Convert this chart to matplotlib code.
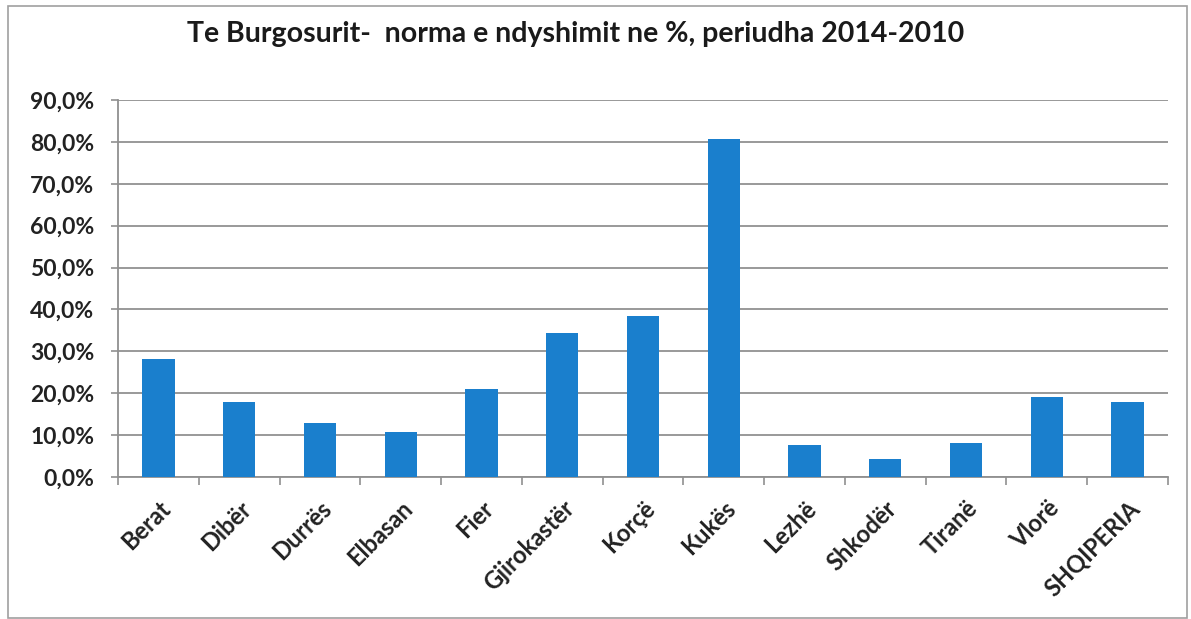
import numpy as np
import matplotlib.pyplot as plt
import matplotlib.transforms as mtransforms
from matplotlib.ticker import FuncFormatter, FixedLocator
from matplotlib.patches import Rectangle

# Donnees
rajonet = ['Berat', 'Dibër', 'Durrës', 'Elbasan', 'Fier', 'Gjirokastër', 'Korçë',
           'Kukës', 'Lezhë', 'Shkodër', 'Tiranë', 'Vlorë', 'SHQIPERIA']
norma = [28.1, 18.0, 12.8, 10.8, 20.9, 34.3, 38.5, 80.6, 7.6, 4.2, 8.2, 19.0, 18.0]
titulli = 'Te Burgosurit-  norma e ndyshimit ne %, periudha 2014-2010'

plt.rcParams['font.family'] = ['Lato', 'DejaVu Sans']

fig = plt.figure(figsize=(11.91, 6.19), dpi=100)
ax = fig.add_axes([118/1191, 1 - 477/619, (1168-118)/1191, (477-100)/619])

# cadre autour du graphique
fig.patches.append(Rectangle((8/1191, 1/619), 1 - 12/1191, 1 - 7/619,
                             transform=fig.transFigure, fill=False,
                             edgecolor='#a0a0a0', linewidth=1.2))

x = np.arange(len(rajonet))
ax.bar(x, norma, width=0.4, color='#1a7fcd', zorder=3)

ax.set_xlim(-0.5, len(rajonet) - 0.5)
ax.set_ylim(0, 90)
ax.set_yticks(np.arange(0, 91, 10))
ax.yaxis.set_major_formatter(FuncFormatter(lambda v, p: '{:.1f}%'.format(v).replace('.', ',')))
ax.grid(axis='y', color='#999999', linewidth=1.4, zorder=0)

ax.set_xticks(x)
ax.set_xticklabels(rajonet, rotation=45, ha='right', va='top', rotation_mode='anchor',
                   fontsize=17, fontweight='bold', color='#222222')
decalage = mtransforms.ScaledTranslation(-12/100, 0, fig.dpi_scale_trans)
for lab in ax.get_xticklabels():
    lab.set_transform(lab.get_transform() + decalage)
ax.xaxis.set_minor_locator(FixedLocator(np.arange(-0.5, len(rajonet), 1)))
ax.tick_params(axis='x', which='major', length=0, pad=14)
ax.tick_params(axis='x', which='minor', length=6, color='#909090', width=1.2)
ax.tick_params(axis='y', length=5, color='#909090', width=1.2, labelsize=16.5,
               pad=12, labelcolor='#222222')
for lab in ax.get_yticklabels():
    lab.set_fontweight('bold')

for s in ['top', 'right']:
    ax.spines[s].set_visible(False)
for s in ['left', 'bottom']:
    ax.spines[s].set_color('#909090')
    ax.spines[s].set_linewidth(1.3)

fig.text(576/1191, 1 - 34/619, titulli, ha='center', va='center',
         fontsize=20.5, fontweight='bold', color='#1a1a1a')

fig.savefig('out.png', dpi=100)
